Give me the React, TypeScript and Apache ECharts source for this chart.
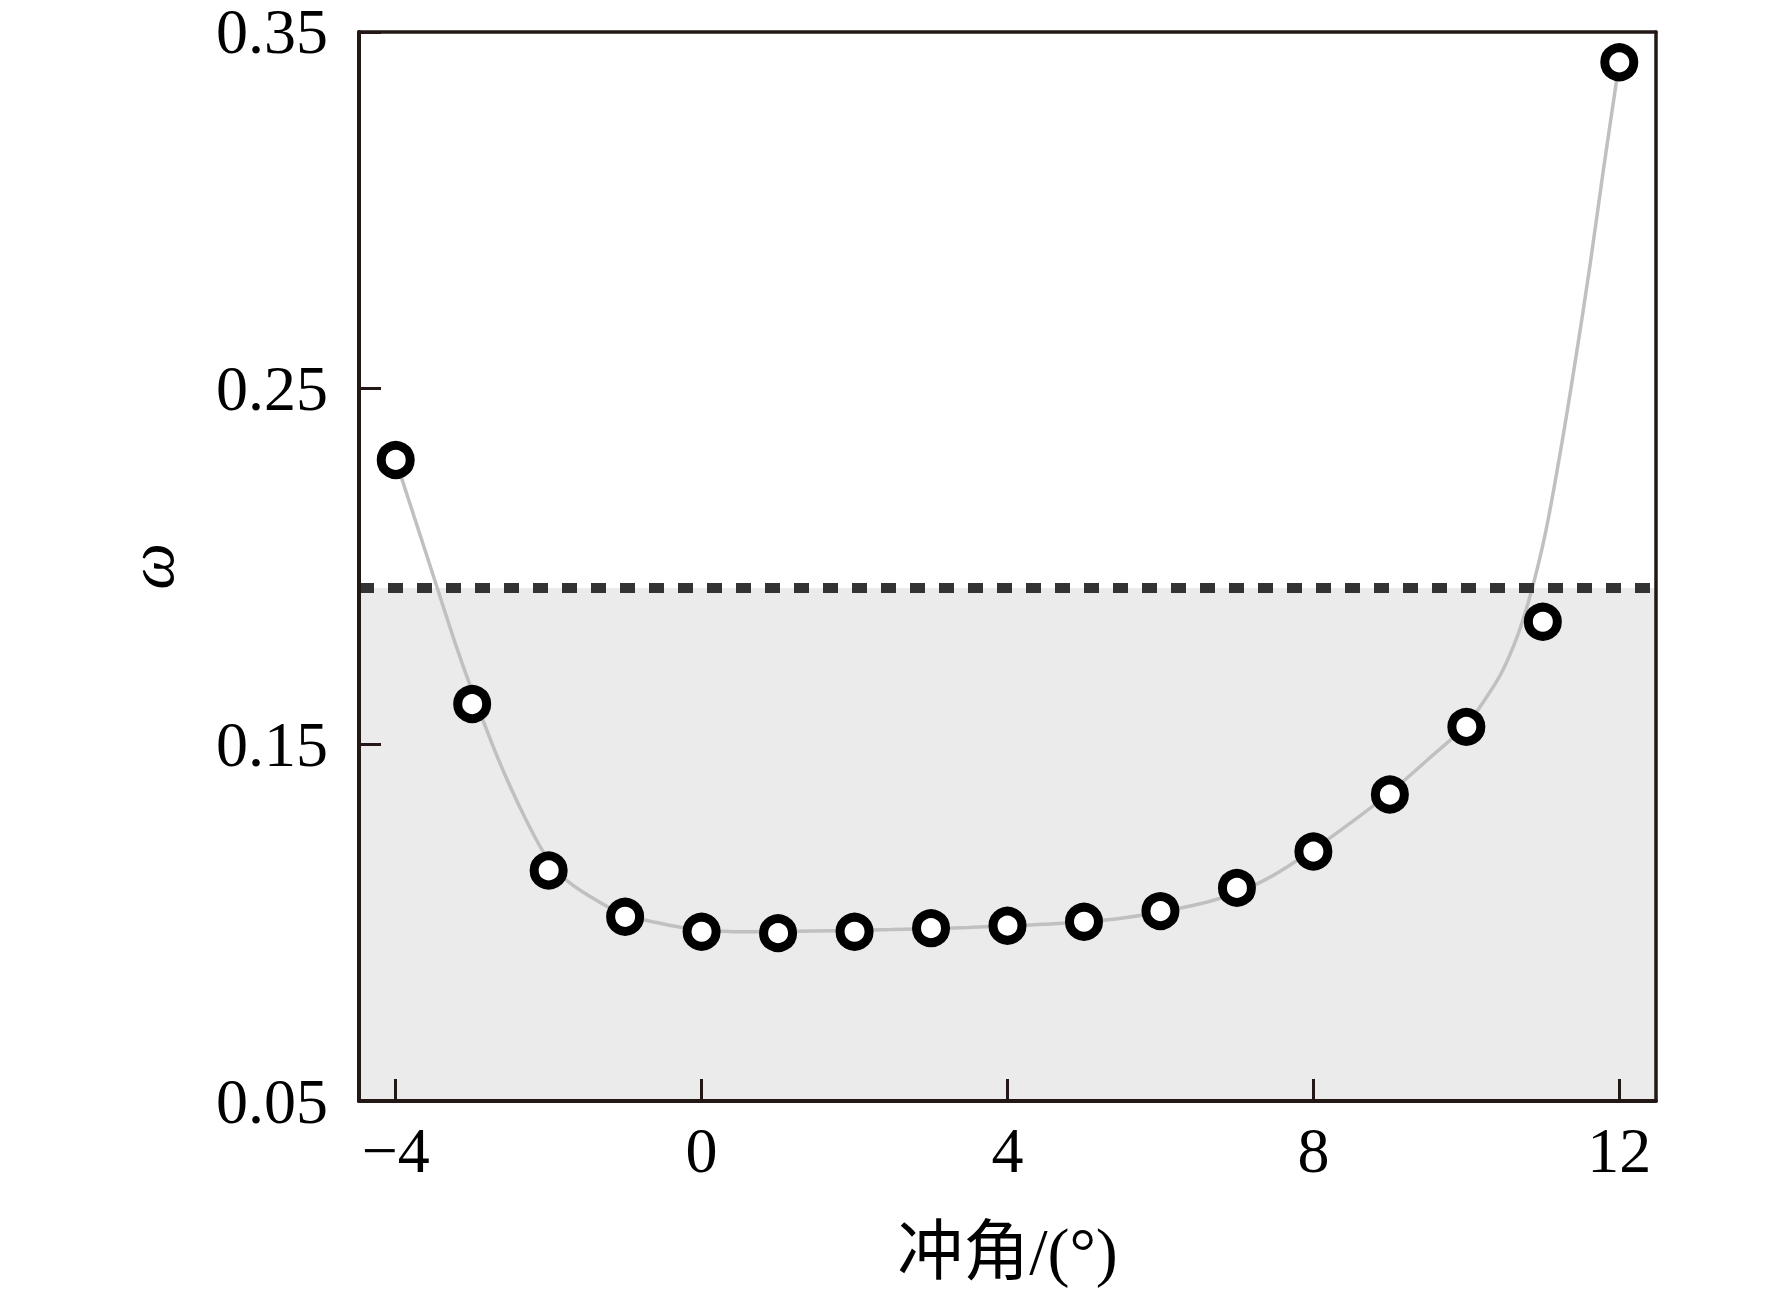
import React, { useEffect, useRef } from "react";
import * as echarts from "echarts";

// Measured points: attack angle (°) and ω
const angles = [-4, -3, -2, -1, 0, 1, 2, 3, 4, 5, 6, 7, 8, 9, 10, 11, 12];
const omegaValues = [
  0.2299, 0.1614, 0.1147, 0.1017, 0.0975, 0.0971, 0.0975, 0.0985, 0.0992,
  0.1003, 0.1033, 0.1098, 0.12, 0.136, 0.155, 0.1845, 0.3415,
];

// Fitted curve
const curveX = [
  -4, -3.6, -3.23, -3.0, -2.66, -2.31, -2.0, -1.74, -1.27, -1.0, -0.57, -0.22,
  0.49, 1.49, 2.48, 3.5, 4.47, 5.46, 6.45, 7.0, 7.38, 7.73, 8.0, 8.49, 9.0,
  9.49, 10.0, 10.22, 10.48, 10.74, 11.0, 11.22, 11.42, 11.62, 11.79, 12.0,
];
const curveY = [
  0.2299, 0.2035, 0.179, 0.165, 0.146, 0.1295, 0.1175, 0.1115, 0.105, 0.1022,
  0.1, 0.0986, 0.0975, 0.0977, 0.0981, 0.0987, 0.0996, 0.1012, 0.105,
  0.1085, 0.1122, 0.1167, 0.1205, 0.1281, 0.1365, 0.1457, 0.1555, 0.1619,
  0.171, 0.185, 0.206, 0.231, 0.257, 0.285, 0.311, 0.3415,
];

// Threshold (dashed line, shaded region below)
const threshold = 0.194;

// Axis ticks
const xTicks = [-4, 0, 4, 8, 12];
const yMin = 0.05;
const yMax = 0.35;
const yInterval = 0.1;

const SERIF = "'Liberation Serif', 'Times New Roman', 'Noto Sans CJK SC', serif";
const AXIS_COLOR = "#231815";

export default function App() {
  const ref = useRef<HTMLDivElement>(null);

  useEffect(() => {
    if (!ref.current) return;
    const chart = echarts.init(ref.current, null, { renderer: "svg" });

    const option: any = {
      animation: false,
      backgroundColor: "#ffffff",
      grid: { left: 359, right: 116, top: 31, bottom: 189, containLabel: false },
      xAxis: [
        {
          type: "value",
          position: "bottom",
          min: -4.48,
          max: 12.48,
          z: 10,
          name: "冲角/(°)",
          nameLocation: "middle",
          nameGap: 117,
          nameTextStyle: {
            fontFamily: SERIF,
            fontSize: 66,
            color: "#000",
          },
          axisLine: {
            show: true,
            onZero: false,
            lineStyle: { color: AXIS_COLOR, width: 4 },
          },
          axisTick: {
            show: true,
            inside: true,
            length: 22,
            customValues: xTicks,
            lineStyle: { color: AXIS_COLOR, width: 3 },
          },
          axisLabel: {
            show: true,
            margin: 17,
            customValues: xTicks,
            fontFamily: SERIF,
            fontSize: 64,
            color: "#000",
            formatter: (v: number) =>
              v < 0 ? "\u2212" + Math.abs(v) : String(v),
          },
          splitLine: { show: false },
        },
        {
          type: "value",
          position: "top",
          min: -4.48,
          max: 12.48,
          z: 10,
          axisLine: {
            show: true,
            onZero: false,
            lineStyle: { color: AXIS_COLOR, width: 3.5 },
          },
          axisTick: { show: false },
          axisLabel: { show: false },
          splitLine: { show: false },
        },
      ],
      yAxis: [
        {
          type: "value",
          position: "left",
          min: yMin,
          max: yMax,
          interval: yInterval,
          z: 10,
          name: "ω",
          nameLocation: "middle",
          nameRotate: 90,
          nameGap: 176,
          nameTextStyle: {
            fontFamily: SERIF,
            fontStyle: "italic",
            fontSize: 66,
            color: "#000",
          },
          axisLine: {
            show: true,
            onZero: false,
            lineStyle: { color: AXIS_COLOR, width: 4 },
          },
          axisTick: {
            show: true,
            inside: true,
            length: 22,
            lineStyle: { color: AXIS_COLOR, width: 3 },
          },
          axisLabel: {
            show: true,
            margin: 31,
            fontFamily: SERIF,
            fontSize: 64,
            lineHeight: 50,
            color: "#000",
            formatter: (v: number) => v.toFixed(2),
          },
          splitLine: { show: false },
        },
        {
          type: "value",
          position: "right",
          min: yMin,
          max: yMax,
          z: 10,
          axisLine: {
            show: true,
            onZero: false,
            lineStyle: { color: AXIS_COLOR, width: 3.5 },
          },
          axisTick: { show: false },
          axisLabel: { show: false },
          splitLine: { show: false },
        },
      ],
      series: [
        {
          type: "line",
          name: "fit",
          xAxisIndex: 0,
          yAxisIndex: 0,
          data: curveX.map((x, i) => [x, curveY[i]]),
          smooth: 0.35,
          symbol: "none",
          lineStyle: { color: "#c0c0c0", width: 3.5 },
          z: 3,
          silent: true,
          markArea: {
            silent: true,
            itemStyle: { color: "#ebebeb" },
            data: [[{ yAxis: yMin }, { yAxis: threshold }]],
          },
          markLine: {
            silent: true,
            precision: 4,
            symbol: ["none", "none"],
            label: { show: false },
            lineStyle: {
              color: "#333333",
              width: 10,
              type: [15, 14],
            },
            data: [{ yAxis: threshold }],
          },
        },
        {
          type: "scatter",
          name: "points",
          xAxisIndex: 0,
          yAxisIndex: 0,
          data: angles.map((x, i) => [x, omegaValues[i]]),
          symbol: "circle",
          symbolSize: 29,
          itemStyle: {
            color: "#ffffff",
            borderColor: "#000000",
            borderWidth: 9,
            opacity: 1,
          },
          z: 6,
          silent: true,
        },
      ],
    };

    chart.setOption(option);
    return () => chart.dispose();
  }, []);

  return (
    <div
      ref={ref}
      style={{
        position: "fixed",
        left: 0,
        top: 0,
        width: 1772,
        height: 1290,
        background: "#ffffff",
      }}
    />
  );
}
